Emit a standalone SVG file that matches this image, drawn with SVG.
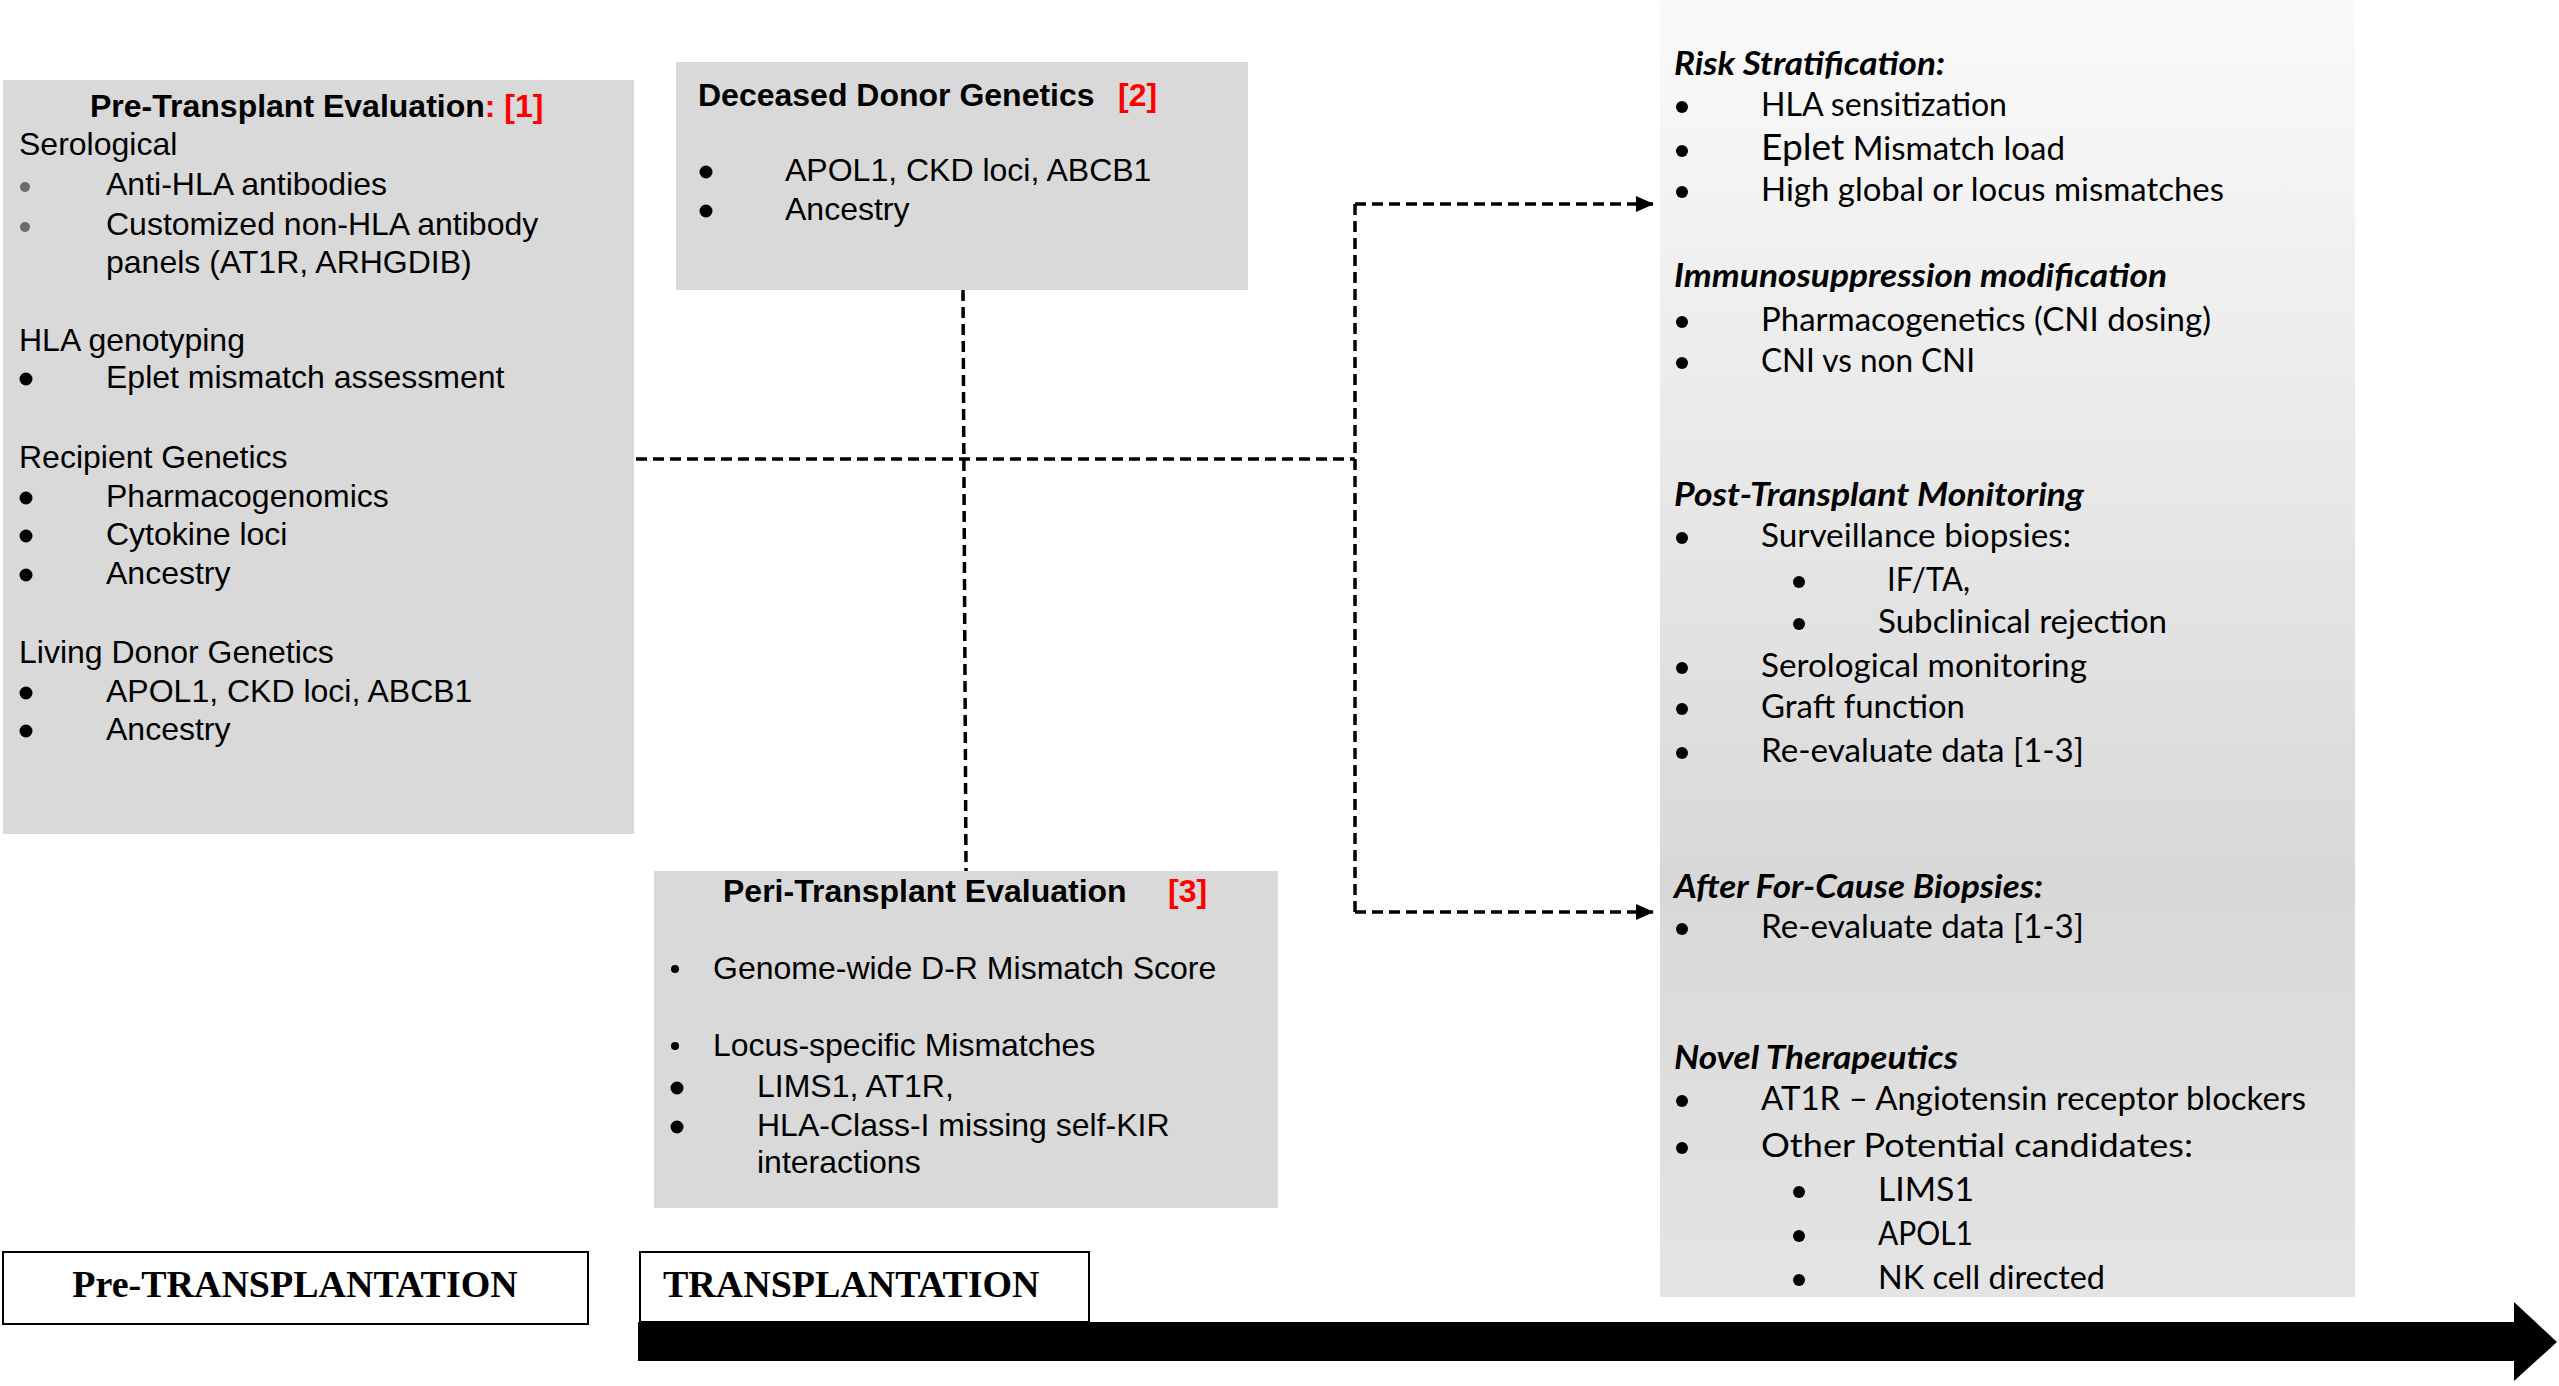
<svg xmlns="http://www.w3.org/2000/svg" width="2559" height="1386" viewBox="0 0 2559 1386">
<defs>
<linearGradient id="panelGrad" x1="0" y1="0" x2="0" y2="1">
<stop offset="0" stop-color="#fafafa"/>
<stop offset="0.35" stop-color="#e9e9e9"/>
<stop offset="0.68" stop-color="#d8d8d8"/>
<stop offset="1" stop-color="#e4e4e4"/>
</linearGradient>
<marker id="arrow" viewBox="0 0 18 16" refX="17" refY="8" markerWidth="18" markerHeight="16" markerUnits="userSpaceOnUse" orient="auto">
<path d="M0,0 L18,8 L0,16 Z" fill="#000"/>
</marker>
<style>
.box{fill:#d9d9d9;}
.a{font-family:"Liberation Sans",Arial,sans-serif;font-size:32px;fill:#000;}
.ab{font-family:"Liberation Sans",Arial,sans-serif;font-size:32px;font-weight:bold;fill:#000;}
.red{fill:#ff0000;}
.b{fill:#000;}
.bg{fill:#6b6b6b;}
.c{font-family:Lato,"Open Sans",sans-serif;font-size:33px;fill:#000;}
.ch{font-family:Lato,"Open Sans",sans-serif;font-size:33px;font-weight:bold;font-style:italic;fill:#000;}
.t{font-family:"Liberation Serif","Times New Roman",serif;font-size:38px;font-weight:bold;fill:#000;}
.lab{fill:#fff;stroke:#000;stroke-width:2;}
.dash{fill:none;stroke:#000;stroke-width:3.5;stroke-dasharray:11 6;}
</style>
</defs>

<g id="pre-transplant-evaluation">
<rect class="box" x="3" y="80" width="631" height="754"/>
<text class="ab" x="90" y="117">Pre-Transplant Evaluation<tspan class="red">: [1]</tspan></text>
<text class="a" x="19" y="155">Serological</text>
<circle class="bg" cx="25" cy="187" r="5"/><text class="a" x="106" y="195">Anti-HLA antibodies</text>
<circle class="bg" cx="25" cy="227" r="5"/><text class="a" x="106" y="235">Customized non-HLA antibody</text>
<text class="a" x="106" y="273">panels (AT1R, ARHGDIB)</text>
<text class="a" x="19" y="351">HLA genotyping</text>
<circle class="b" cx="26" cy="379" r="6.5"/><text class="a" x="106" y="388">Eplet mismatch assessment</text>
<text class="a" x="19" y="468">Recipient Genetics</text>
<circle class="b" cx="26" cy="498" r="6.5"/><text class="a" x="106" y="507">Pharmacogenomics</text>
<circle class="b" cx="26" cy="536" r="6.5"/><text class="a" x="106" y="545">Cytokine loci</text>
<circle class="b" cx="26" cy="575" r="6.5"/><text class="a" x="106" y="584">Ancestry</text>
<text class="a" x="19" y="663">Living Donor Genetics</text>
<circle class="b" cx="26" cy="693" r="6.5"/><text class="a" x="106" y="702">APOL1, CKD loci, ABCB1</text>
<circle class="b" cx="26" cy="731" r="6.5"/><text class="a" x="106" y="740">Ancestry</text>
</g>

<g id="deceased-donor-genetics">
<rect class="box" x="676" y="62" width="572" height="228"/>
<text class="ab" x="698" y="106">Deceased Donor Genetics</text>
<text class="ab red" x="1118" y="106">[2]</text>
<circle class="b" cx="706" cy="172" r="6.5"/><text class="a" x="785" y="181">APOL1, CKD loci, ABCB1</text>
<circle class="b" cx="706" cy="211" r="6.5"/><text class="a" x="785" y="220">Ancestry</text>
</g>

<g id="peri-transplant-evaluation">
<rect class="box" x="654" y="871" width="624" height="337"/>
<text class="ab" x="723" y="902">Peri-Transplant Evaluation</text>
<text class="ab red" x="1168" y="902">[3]</text>
<circle class="b" cx="675" cy="969" r="4"/><text class="a" x="713" y="979">Genome-wide D-R Mismatch Score</text>
<circle class="b" cx="675" cy="1046" r="4"/><text class="a" x="713" y="1056">Locus-specific Mismatches</text>
<circle class="b" cx="677" cy="1088" r="6.5"/><text class="a" x="757" y="1097">LIMS1, AT1R,</text>
<circle class="b" cx="677" cy="1127" r="6.5"/><text class="a" x="757" y="1136">HLA-Class-I missing self-KIR</text>
<text class="a" x="757" y="1173">interactions</text>
</g>

<g id="outcomes-panel">
<rect x="1660" y="0" width="695" height="1297" fill="url(#panelGrad)"/>
<text class="ch" x="1674" y="75" textLength="271" lengthAdjust="spacingAndGlyphs">Risk Stratification:</text>
<circle class="b" cx="1682" cy="107" r="6"/><text class="c" x="1761" y="116" textLength="246" lengthAdjust="spacingAndGlyphs">HLA sensitization</text>
<circle class="b" cx="1682" cy="151" r="6"/><text class="c" x="1761" y="160" textLength="304" lengthAdjust="spacingAndGlyphs"><tspan style="font-size:37px">Eplet</tspan> Mismatch load</text>
<circle class="b" cx="1682" cy="192" r="6"/><text class="c" x="1761" y="201" textLength="463" lengthAdjust="spacingAndGlyphs">High global or locus mismatches</text>
<text class="ch" x="1674" y="287" textLength="493" lengthAdjust="spacingAndGlyphs">Immunosuppression modification</text>
<circle class="b" cx="1682" cy="322" r="6"/><text class="c" x="1761" y="331" textLength="450" lengthAdjust="spacingAndGlyphs">Pharmacogenetics (CNI dosing)</text>
<circle class="b" cx="1682" cy="363" r="6"/><text class="c" x="1761" y="372" textLength="214" lengthAdjust="spacingAndGlyphs">CNI vs non CNI</text>
<text class="ch" x="1674" y="506" textLength="410" lengthAdjust="spacingAndGlyphs">Post-Transplant Monitoring</text>
<circle class="b" cx="1682" cy="538" r="6"/><text class="c" x="1761" y="547" textLength="310" lengthAdjust="spacingAndGlyphs">Surveillance biopsies:</text>
<circle class="b" cx="1799" cy="582" r="6"/><text class="c" x="1887" y="591" textLength="83" lengthAdjust="spacingAndGlyphs">IF/TA,</text>
<circle class="b" cx="1799" cy="624" r="6"/><text class="c" x="1878" y="633" textLength="289" lengthAdjust="spacingAndGlyphs">Subclinical rejection</text>
<circle class="b" cx="1682" cy="668" r="6"/><text class="c" x="1761" y="677" textLength="326" lengthAdjust="spacingAndGlyphs">Serological monitoring</text>
<circle class="b" cx="1682" cy="709" r="6"/><text class="c" x="1761" y="718" textLength="204" lengthAdjust="spacingAndGlyphs">Graft function</text>
<circle class="b" cx="1682" cy="753" r="6"/><text class="c" x="1761" y="762" textLength="323" lengthAdjust="spacingAndGlyphs">Re-evaluate data [1-3]</text>
<text class="ch" x="1674" y="898" textLength="369" lengthAdjust="spacingAndGlyphs">After For-Cause Biopsies:</text>
<circle class="b" cx="1682" cy="929" r="6"/><text class="c" x="1761" y="938" textLength="323" lengthAdjust="spacingAndGlyphs">Re-evaluate data [1-3]</text>
<text class="ch" x="1674" y="1069" textLength="284" lengthAdjust="spacingAndGlyphs">Novel Therapeutics</text>
<circle class="b" cx="1682" cy="1101" r="6"/><text class="c" x="1761" y="1110" textLength="545" lengthAdjust="spacingAndGlyphs">AT1R – Angiotensin receptor blockers</text>
<circle class="b" cx="1682" cy="1148" r="6"/><text class="c" x="1761" y="1157" textLength="432" lengthAdjust="spacingAndGlyphs">Other Potential candidates:</text>
<circle class="b" cx="1799" cy="1192" r="6"/><text class="c" x="1878" y="1201" textLength="96" lengthAdjust="spacingAndGlyphs">LIMS1</text>
<circle class="b" cx="1799" cy="1236" r="6"/><text class="c" x="1878" y="1245" textLength="95" lengthAdjust="spacingAndGlyphs">APOL1</text>
<circle class="b" cx="1799" cy="1280" r="6"/><text class="c" x="1878" y="1289" textLength="227" lengthAdjust="spacingAndGlyphs">NK cell directed</text>
</g>

<g id="connectors">
<path class="dash" d="M636,459 L1355,459"/>
<path class="dash" d="M963,290 L966,871"/>
<path class="dash" d="M1355,204 L1355,912"/>
<path class="dash" d="M1355,204 L1653,204" marker-end="url(#arrow)"/>
<path class="dash" d="M1355,912 L1653,912" marker-end="url(#arrow)"/>
</g>

<g id="timeline-arrow">
<path d="M638,1322 L2514,1322 L2514,1302 L2557,1342 L2514,1381 L2514,1361 L638,1361 Z" fill="#000"/>
</g>

<g id="pre-transplantation-label">
<rect class="lab" x="3" y="1252" width="585" height="72"/>
<text class="t" x="295" y="1297" text-anchor="middle">Pre-TRANSPLANTATION</text>
</g>

<g id="transplantation-label">
<rect class="lab" x="640" y="1252" width="449" height="70"/>
<text class="t" x="663" y="1297">TRANSPLANTATION</text>
</g>
</svg>
